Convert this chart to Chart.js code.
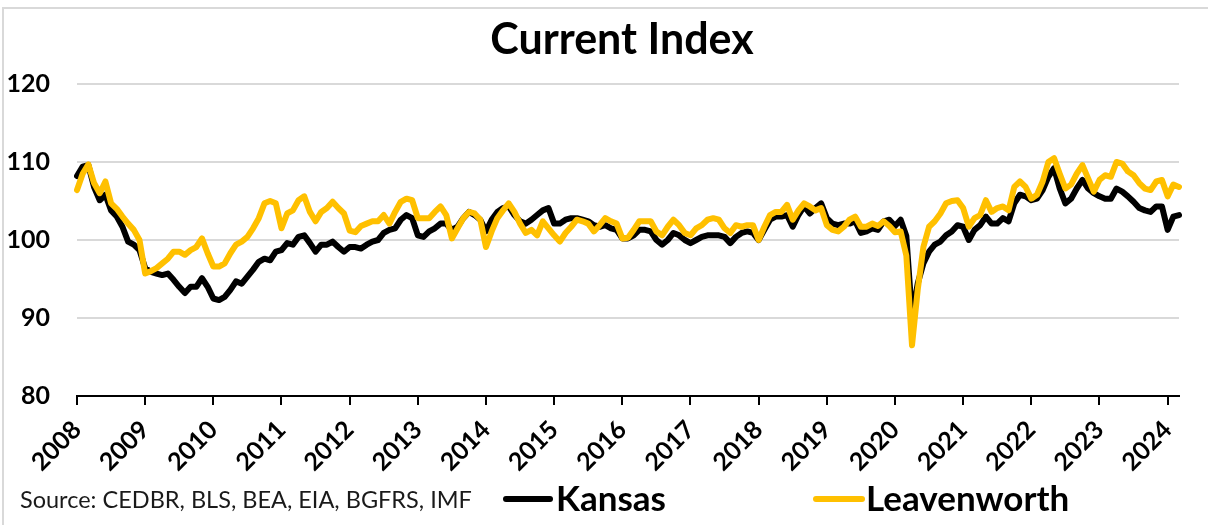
<!DOCTYPE html>
<html lang="en">
<head>
    <meta charset="UTF-8">
    <title>Current Index</title>
    <style>
        body { margin: 0; background: #fff; }
        #wrap { position: relative; width: 1208px; height: 525px; overflow: hidden; font-family: Lato, "Open Sans", sans-serif; color: #000; }
        #frame { position: absolute; left: 2px; top: 7px; width: 1300px; height: 600px; border-left: 2px solid #d9d9d9; border-top: 2px solid #d9d9d9; }
        #title { position: absolute; left: 0; width: 1244px; top: 12px; text-align: center; font-weight: bold; font-size: 43px; line-height: 1.2; }
        #source { position: absolute; left: 20px; top: 485px; font-size: 23.5px; color: #1a1a1a; }
        .swatch { position: absolute; top: 496px; height: 6px; border-radius: 3px; }
        .legtext { position: absolute; top: 476px; font-size: 35px; font-weight: bold; line-height: 1.2; }
        canvas { position: absolute; left: 0; top: 0; }
    </style>
</head>
<body>
<div id="wrap">
    <div id="frame"></div>
    <canvas id="myChart" width="1208" height="525"></canvas>
    <div id="title">Current Index</div>
    <div id="source">Source: CEDBR, BLS, BEA, EIA, BGFRS, IMF</div>
    <div class="swatch" style="left:503px;width:50px;background:#000;"></div>
    <div class="legtext" style="left:556px;">Kansas</div>
    <div class="swatch" style="left:813px;width:52px;background:#FFC000;"></div>
    <div class="legtext" style="left:866px;">Leavenworth</div>
</div>

<script src="https://cdn.jsdelivr.net/npm/chart.js"></script>
<script>
    // monthly categories, Jan 2008 .. Mar 2024
    const firstYear = 2008;
    const lastYear = 2024;
    const lastMonth = 3;
    const months = [];
    for (let y = firstYear; y <= lastYear; y++) {
        for (let m = 1; m <= 12; m++) {
            if (y === lastYear && m > lastMonth) break;
            months.push(y + '-' + String(m).padStart(2, '0'));
        }
    }

    const yTicks = [80, 90, 100, 110, 120];

    // values
    const kansas = [
        108.2, 109.4, 109.6, 106.8, 105.1, 105.8, 103.8, 103.0, 101.7, 99.8, 99.4, 98.7,
        96.4, 95.9, 95.7, 95.5, 95.7, 94.9, 94.0, 93.2, 94.0, 94.0, 95.1, 94.0,
        92.5, 92.3, 92.7, 93.6, 94.7, 94.4, 95.3, 96.2, 97.2, 97.6, 97.4, 98.5,
        98.7, 99.6, 99.4, 100.4, 100.6, 99.6, 98.5, 99.4, 99.4, 99.8, 99.1, 98.5,
        99.1, 99.1, 98.9, 99.4, 99.8, 100.0, 100.9, 101.3, 101.5, 102.6, 103.2, 102.8,
        100.6, 100.4, 101.1, 101.5, 102.1, 102.1, 101.3, 101.7, 102.8, 103.6, 103.2, 102.6,
        101.1, 102.6, 103.6, 104.1, 104.3, 103.2, 102.4, 102.1, 102.6, 103.2, 103.8, 104.1,
        102.1, 102.1, 102.6, 102.8, 102.8, 102.6, 102.4, 101.9, 101.7, 101.9, 101.5, 101.3,
        100.2, 100.2, 100.6, 101.3, 101.3, 101.1, 100.0, 99.4, 100.0, 100.9, 100.6, 100.0,
        99.6, 100.0, 100.4, 100.6, 100.6, 100.6, 100.4, 99.6, 100.4, 100.9, 101.1, 100.9,
        100.0, 101.3, 102.6, 103.0, 103.0, 103.2, 101.7, 103.2, 104.3, 103.4, 104.1, 104.7,
        102.8, 102.1, 101.9, 102.1, 102.1, 102.4, 100.9, 101.1, 101.5, 101.3, 102.4, 102.6,
        101.8, 102.6, 100.5, 90.2, 94.4, 97.0, 98.5, 99.4, 99.8, 100.6, 101.1, 101.9,
        101.7, 100.0, 101.3, 101.9, 103.0, 102.1, 102.1, 102.8, 102.4, 104.7, 105.8, 105.6,
        105.1, 105.3, 106.4, 108.1, 109.2, 106.6, 104.7, 105.3, 106.6, 107.7, 106.6, 106.0,
        105.6, 105.3, 105.3, 106.6, 106.2, 105.6, 104.9, 104.1, 103.8, 103.6, 104.3, 104.3,
        101.3, 103.0, 103.2
    ];

    const leavenworth = [
        106.4, 108.5, 109.7, 107.3, 106.0, 107.5, 104.7, 104.0, 103.0, 102.1, 101.3, 100.0,
        95.7, 96.0, 96.4, 97.0, 97.6, 98.5, 98.5, 98.1, 98.7, 99.1, 100.2, 98.3,
        96.6, 96.6, 97.0, 98.3, 99.4, 99.8, 100.4, 101.5, 102.8, 104.7, 105.0, 104.7,
        101.5, 103.4, 103.8, 105.1, 105.6, 103.6, 102.4, 103.6, 104.1, 104.9, 104.1, 103.4,
        101.2, 101.0, 101.8, 102.1, 102.4, 102.4, 103.2, 102.1, 103.6, 104.9, 105.3, 105.1,
        102.8, 102.8, 102.8, 103.6, 104.3, 103.2, 100.2, 101.5, 102.8, 103.6, 103.4, 102.6,
        99.1, 101.1, 102.8, 103.8, 104.7, 103.6, 102.1, 100.9, 101.3, 100.6, 102.4, 101.5,
        100.6, 99.8, 100.9, 101.7, 102.6, 102.4, 102.1, 101.1, 101.9, 102.8, 102.4, 102.1,
        100.2, 100.3, 101.3, 102.4, 102.4, 102.4, 101.1, 100.6, 101.7, 102.6, 101.9, 100.9,
        100.6, 101.5, 101.9, 102.6, 102.8, 102.6, 101.5, 100.9, 101.9, 101.7, 101.9, 101.9,
        100.0, 101.7, 103.2, 103.6, 103.6, 104.5, 102.6, 103.8, 104.7, 104.3, 103.8, 104.1,
        101.9, 101.3, 101.1, 101.7, 102.6, 103.0, 101.7, 101.7, 102.1, 101.8, 102.4, 101.8,
        101.0, 101.1, 98.0, 86.5, 93.6, 99.1, 101.7, 102.4, 103.4, 104.7, 105.0, 105.1,
        104.1, 101.7, 102.8, 103.2, 105.1, 103.6, 104.1, 104.3, 103.8, 106.8, 107.5, 106.8,
        105.3, 105.8, 107.5, 110.0, 110.5, 108.5, 106.6, 107.1, 108.5, 109.6, 107.9, 106.2,
        107.7, 108.3, 108.1, 110.0, 109.8, 108.8, 108.3, 107.3, 106.6, 106.4, 107.5, 107.7,
        105.6, 107.1, 106.8
    ];

    const ctx = document.getElementById('myChart').getContext('2d');
    const myChart = new Chart(ctx, {
        type: 'line',
        data: {
            labels: months,
            datasets: [
                {
                    label: 'Kansas',
                    data: kansas,
                    borderColor: '#000000',
                    borderWidth: 6,
                    order: 2
                },
                {
                    label: 'Leavenworth',
                    data: leavenworth,
                    borderColor: '#FFC000',
                    borderWidth: 6,
                    order: 1
                }
            ]
        },
        options: {
            responsive: false,
            animation: false,
            layout: { padding: { left: 0, right: 29, top: 84, bottom: 0 } },
            elements: {
                point: { radius: 0 },
                line: { tension: 0, borderJoinStyle: 'round', borderCapStyle: 'round' }
            },
            plugins: {
                legend: { display: false },
                tooltip: { enabled: false }
            },
            scales: {
                x: {
                    type: 'category',
                    offset: false,
                    afterFit: function(scale) { scale.height = 129; },
                    ticks: {
                        autoSkip: false,
                        maxRotation: 45,
                        minRotation: 45,
                        padding: 10,
                        color: '#000',
                        font: { family: 'Lato', size: 25, weight: 'bold' },
                        callback: function(value) {
                            const lab = this.getLabelForValue(value);
                            return lab.endsWith('-01') ? lab.slice(0, 4) : null;
                        }
                    },
                    grid: {
                        drawOnChartArea: false,
                        drawTicks: true,
                        tickLength: 9,
                        color: '#000',
                        lineWidth: 2
                    },
                    border: { display: true, color: '#000', width: 2 }
                },
                y: {
                    min: 80,
                    max: 120,
                    afterFit: function(scale) { scale.width = 77; },
                    afterBuildTicks: function(scale) {
                        scale.ticks = yTicks.map(v => ({ value: v }));
                    },
                    ticks: {
                        padding: 27,
                        color: '#000',
                        font: { family: 'Lato', size: 25, weight: 'bold' }
                    },
                    grid: {
                        drawTicks: false,
                        lineWidth: 2,
                        color: function(c) { return c.tick && c.tick.value === 80 ? 'rgba(0,0,0,0)' : '#d9d9d9'; }
                    },
                    border: { display: false }
                }
            }
        }
    });
</script>
</body>
</html>
